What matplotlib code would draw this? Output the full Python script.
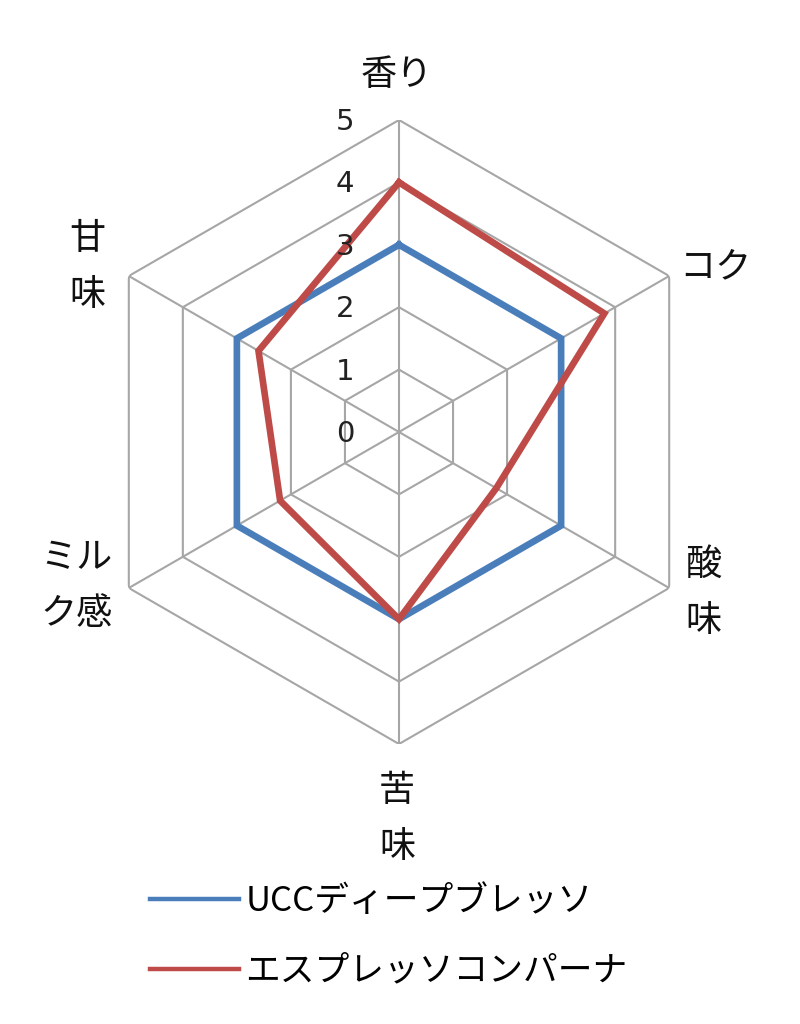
import numpy as np
import matplotlib
matplotlib.use("Agg")
import matplotlib.pyplot as plt
from matplotlib.lines import Line2D

plt.rcParams['font.family'] = ['Noto Sans CJK JP', 'DejaVu Sans']

categories = ['香り', 'コク', '酸\n味', '苦\n味', 'ミル\nク感', '甘\n味']
series_names = ['UCCディープブレッソ', 'エスプレッソコンパーナ']
ucc_values = [3, 3, 3, 3, 3, 3]
espresso_values = [4, 3.8, 1.8, 3, 2.2, 2.6]
r_ticks = [0, 1, 2, 3, 4, 5]

colors = ['#4A7EBB', '#BE4B48']
grid_color = '#A6A6A6'

# label offsets (pixels) relative to outer vertex
label_offsets = [(-2, 45), (46, 9), (34, -5), (-2, -75), (-52, 2), (-41, 9)]

W, H = 800, 1024
fig = plt.figure(figsize=(W / 100, H / 100), dpi=100)
cx, cy, R = 399, 432, 312
ax = fig.add_axes([(cx - R) / W, (H - cy - R) / H, 2 * R / W, 2 * R / H], projection='polar')
ax.set_theta_offset(np.pi / 2)
ax.set_theta_direction(-1)
ax.set_ylim(0, 5)
ax.grid(False)
ax.spines['polar'].set_visible(False)
ax.set_xticks([])
ax.set_yticks([])
ax.patch.set_alpha(0)

n = len(categories)
angles = np.linspace(0, 2 * np.pi, n, endpoint=False)
closed = np.concatenate([angles, angles[:1]])

# hexagonal grid
for r in r_ticks[1:]:
    ax.plot(closed, [r] * (n + 1), color=grid_color, lw=1.5, zorder=1)
for a in angles:
    ax.plot([a, a], [0, r_ticks[-1]], color=grid_color, lw=1.5, zorder=1)

# series
for vals, c, name in zip([ucc_values, espresso_values], colors, series_names):
    v = np.array(vals + vals[:1], dtype=float)
    ax.plot(closed, v, color=c, lw=4.8, label=name, zorder=3, solid_joinstyle='miter')

# radial tick labels
for r in r_ticks:
    ax.annotate(str(r), xy=(0, r), xytext=(-54, -2), textcoords='offset pixels',
                ha='center', va='center', fontsize=21, color='#222222', zorder=4,
                family=['DejaVu Sans'])

# category labels
for a, lab, off in zip(angles, categories, label_offsets):
    ax.annotate(lab, xy=(a, r_ticks[-1]), xytext=off, textcoords='offset pixels',
                ha='center', va='center', fontsize=26, color='#111111',
                linespacing=1.7, annotation_clip=False)

handles = [Line2D([], [], color=c, lw=3.2) for c in colors]
fig.legend(handles, series_names, loc='upper left', bbox_to_anchor=(150 / W, 1 - 884 / H),
           frameon=False, fontsize=25, handlelength=2.55, handletextpad=0.2,
           labelspacing=1.0, borderpad=0, borderaxespad=0)

fig.savefig('out.png', dpi=100, facecolor='white')
